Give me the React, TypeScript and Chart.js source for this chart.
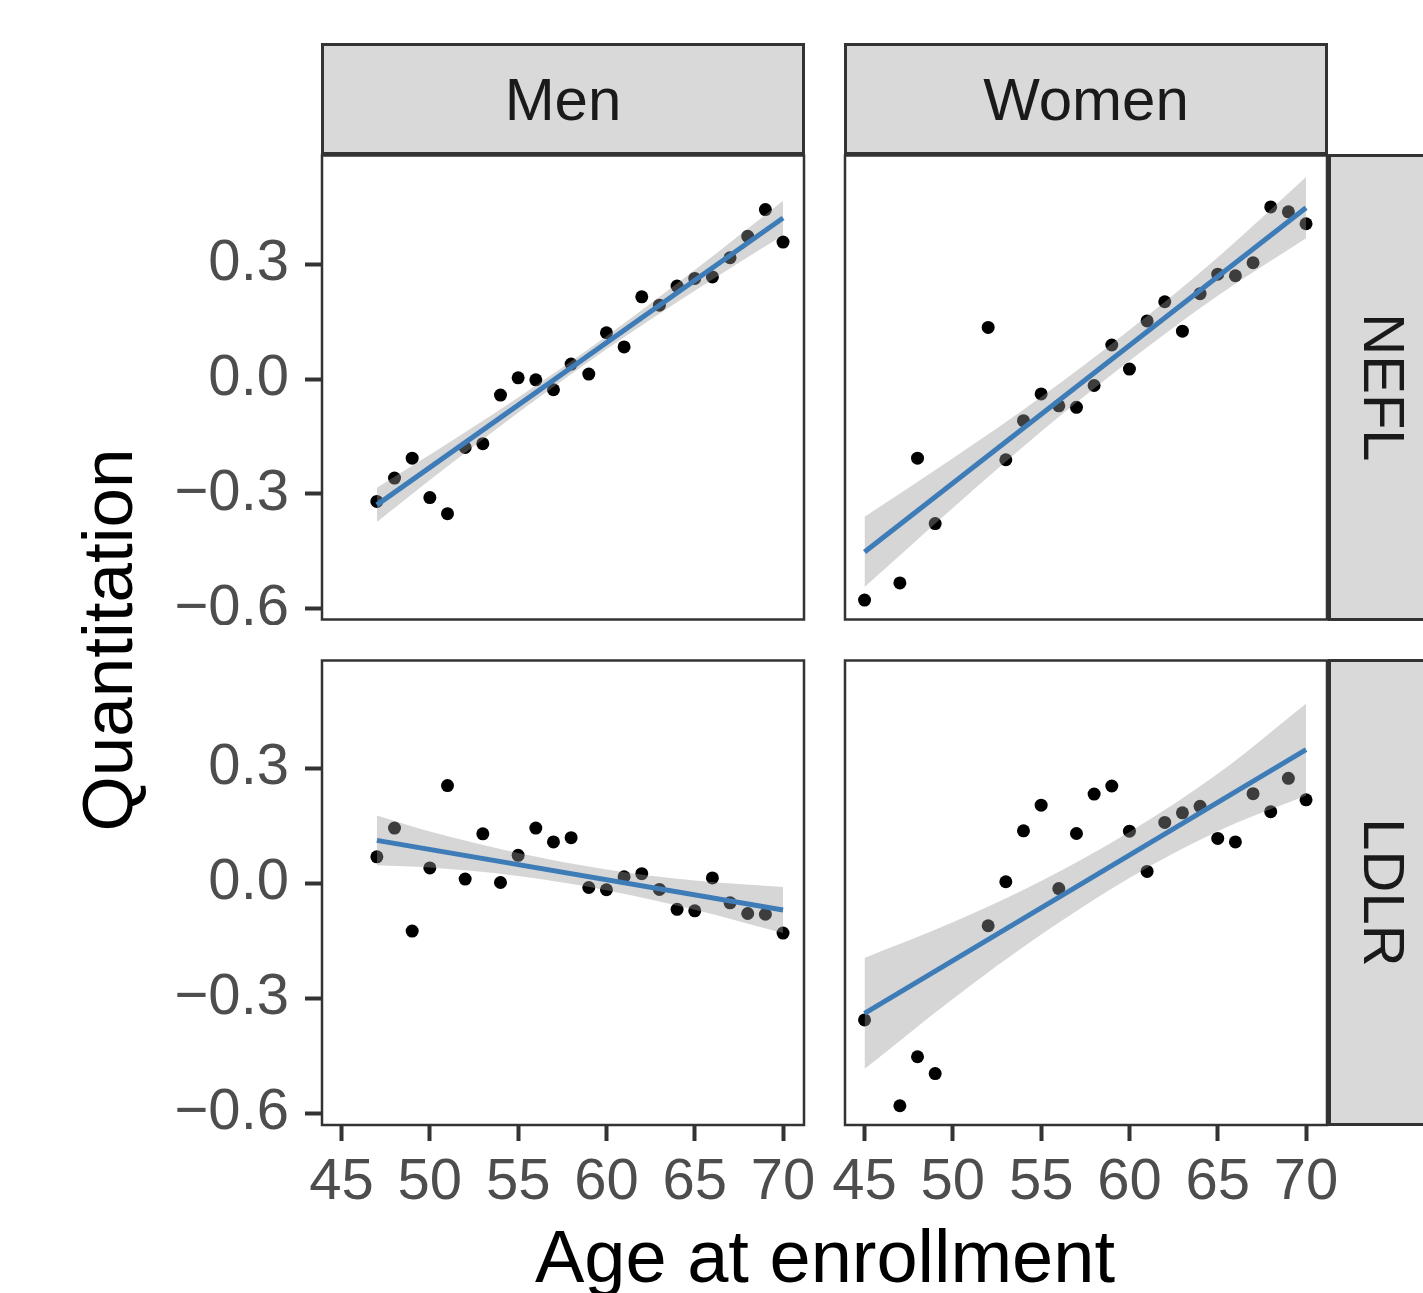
import React, { useEffect, useRef } from "react";
import { Chart, registerables } from "chart.js";

Chart.register(...registerables);

const FONT = "'Liberation Sans', Arial, Helvetica, sans-serif";

// ---- axis ticks ----
const xTicks = [45, 50, 55, 60, 65, 70];
const xTickLabels = ["45", "50", "55", "60", "65", "70"];
const yTicks = [0.3, 0.0, -0.3, -0.6];
const yTickLabels = ["0.3", "0.0", "\u22120.3", "\u22120.6"];

const sexLabels = ["Men", "Women"];
const proteinLabels = ["NEFL", "LDLR"];
const xTitle = "Age at enrollment";
const yTitle = "Quantitation";

// ---- Men, NEFL ----
const menNeflAge = [47, 48, 49, 50, 51, 52, 53, 54, 55, 56, 57, 58, 59, 60, 61, 62, 63, 64, 65, 66, 67, 68, 69, 70];
const menNeflValue = [-0.32, -0.259, -0.207, -0.31, -0.352, -0.179, -0.169, -0.042, 0.003, -0.002, -0.028, 0.039, 0.013, 0.121, 0.084, 0.215, 0.193, 0.243, 0.263, 0.267, 0.317, 0.373, 0.443, 0.358];
const menNeflFitAge = [47, 70];
const menNeflFitValue = [-0.329, 0.421];
const menNeflBandAge = [47, 50, 55, 60, 65, 70];
const menNeflBandLow = [-0.374, -0.264, -0.088, 0.078, 0.231, 0.376];
const menNeflBandHigh = [-0.284, -0.198, -0.048, 0.112, 0.285, 0.466];

// ---- Women, NEFL ----
const womenNeflAge = [45, 47, 48, 49, 52, 53, 54, 55, 56, 57, 58, 59, 60, 61, 62, 63, 64, 65, 66, 67, 68, 69, 70];
const womenNeflValue = [-0.578, -0.533, -0.207, -0.378, 0.135, -0.211, -0.109, -0.039, -0.07, -0.074, -0.017, 0.089, 0.026, 0.152, 0.202, 0.125, 0.223, 0.274, 0.27, 0.304, 0.45, 0.437, 0.406];
const womenNeflFitAge = [45, 70];
const womenNeflFitValue = [-0.452, 0.448];
const womenNeflBandAge = [45, 50, 55, 60, 65, 70];
const womenNeflBandLow = [-0.544, -0.337, -0.137, 0.048, 0.218, 0.368];
const womenNeflBandHigh = [-0.36, -0.207, -0.047, 0.128, 0.318, 0.528];

// ---- Men, LDLR ----
const menLdlrAge = [47, 48, 49, 50, 51, 52, 53, 54, 55, 56, 57, 58, 59, 60, 61, 62, 63, 64, 65, 66, 67, 68, 69, 70];
const menLdlrValue = [0.069, 0.144, -0.125, 0.04, 0.255, 0.011, 0.129, 0.002, 0.073, 0.144, 0.108, 0.119, -0.011, -0.017, 0.017, 0.025, -0.016, -0.068, -0.072, 0.014, -0.051, -0.079, -0.081, -0.13];
const menLdlrFitAge = [47, 70];
const menLdlrFitValue = [0.112, -0.07];
const menLdlrBandAge = [47, 50, 55, 60, 65, 70];
const menLdlrBandLow = [0.047, 0.041, 0.019, -0.018, -0.069, -0.13];
const menLdlrBandHigh = [0.177, 0.135, 0.079, 0.036, 0.007, -0.01];

// ---- Women, LDLR ----
const womenLdlrAge = [45, 47, 48, 49, 52, 53, 54, 55, 56, 57, 58, 59, 60, 61, 62, 63, 64, 65, 66, 67, 68, 69, 70];
const womenLdlrValue = [-0.357, -0.581, -0.453, -0.497, -0.111, 0.004, 0.137, 0.204, -0.014, 0.13, 0.233, 0.254, 0.136, 0.031, 0.159, 0.184, 0.201, 0.117, 0.108, 0.234, 0.187, 0.274, 0.218];
const womenLdlrFitAge = [45, 70];
const womenLdlrFitValue = [-0.34, 0.349];
const womenLdlrBandAge = [45, 50, 55, 60, 65, 70];
const womenLdlrBandLow = [-0.485, -0.302, -0.134, 0.014, 0.136, 0.229];
const womenLdlrBandHigh = [-0.195, -0.102, 0.006, 0.134, 0.286, 0.469];

const X_MIN = 43.95;
const X_MAX = 71.13;

type PanelProps = {
  ages: number[];
  values: number[];
  fitAge: number[];
  fitValue: number[];
  bandAge: number[];
  bandLow: number[];
  bandHigh: number[];
  left: number;
  top: number;
  width: number;
  height: number;
  padding: { left: number; right: number; top: number; bottom: number };
  yAxisWidth: number | null;
  xAxisHeight: number | null;
  yMin: number;
  yMax: number;
};

const framePlugin = {
  id: "panelFrame",
  afterDraw(chart: any) {
    const { ctx, chartArea } = chart;
    ctx.save();
    ctx.strokeStyle = "#333333";
    ctx.lineWidth = 2.5;
    ctx.strokeRect(chartArea.left - 1, chartArea.top - 1, chartArea.right - chartArea.left + 2, chartArea.bottom - chartArea.top + 2);
    ctx.restore();
  },
};

function Panel(p: PanelProps) {
  const ref = useRef<HTMLCanvasElement | null>(null);
  useEffect(() => {
    if (!ref.current) return;
    const pts = p.ages.map((a, i) => ({ x: a, y: p.values[i] }));
    const fit = p.fitAge.map((a, i) => ({ x: a, y: p.fitValue[i] }));
    const low = p.bandAge.map((a, i) => ({ x: a, y: p.bandLow[i] }));
    const high = p.bandAge.map((a, i) => ({ x: a, y: p.bandHigh[i] }));
    const chart = new Chart(ref.current, {
      type: "scatter",
      data: {
        datasets: [
          {
            type: "line",
            data: fit,
            borderColor: "#3E7CB8",
            borderWidth: 5,
            pointRadius: 0,
            fill: false,
            order: 0,
          } as any,
          {
            type: "line",
            data: low,
            borderColor: "rgba(0,0,0,0)",
            borderWidth: 0,
            pointRadius: 0,
            fill: false,
            cubicInterpolationMode: "monotone",
            order: 1,
          } as any,
          {
            type: "line",
            data: high,
            borderColor: "rgba(0,0,0,0)",
            borderWidth: 0,
            pointRadius: 0,
            fill: "-1",
            backgroundColor: "rgba(153,153,153,0.4)",
            cubicInterpolationMode: "monotone",
            order: 1,
          } as any,
          {
            type: "scatter",
            data: pts,
            pointRadius: 6.5,
            backgroundColor: "#000000",
            borderWidth: 0,
            order: 2,
          } as any,
        ],
      },
      options: {
        animation: false,
        responsive: false,
        maintainAspectRatio: false,
        layout: { padding: p.padding },
        plugins: { legend: { display: false }, tooltip: { enabled: false } },
        scales: {
          x: {
            type: "linear",
            min: X_MIN,
            max: X_MAX,
            display: p.xAxisHeight !== null,
            afterBuildTicks: (s: any) => {
              s.ticks = xTicks.map((v) => ({ value: v }));
            },
            afterFit: (s: any) => {
              if (p.xAxisHeight !== null) s.height = p.xAxisHeight;
              s.paddingLeft = 0;
              s.paddingRight = 0;
              s.paddingTop = 0;
              s.paddingBottom = 0;
            },
            ticks: {
              autoSkip: false,
              maxRotation: 0,
              minRotation: 0,
              padding: 7,
              color: "#4d4d4d",
              font: { family: FONT, size: 58 },
              callback: (v: any) => xTickLabels[xTicks.indexOf(Number(v))] ?? "",
            },
            grid: { drawOnChartArea: false, drawTicks: true, tickLength: 17, tickWidth: 4, tickColor: "#333333" },
            border: { display: false },
          },
          y: {
            type: "linear",
            min: p.yMin,
            max: p.yMax,
            display: p.yAxisWidth !== null,
            afterBuildTicks: (s: any) => {
              s.ticks = yTicks.map((v) => ({ value: v }));
            },
            afterFit: (s: any) => {
              if (p.yAxisWidth !== null) s.width = p.yAxisWidth;
              s.paddingLeft = 0;
              s.paddingRight = 0;
              s.paddingTop = 0;
              s.paddingBottom = 0;
            },
            ticks: {
              autoSkip: false,
              padding: 16,
              color: "#4d4d4d",
              font: { family: FONT, size: 58 },
              callback: (v: any) => {
                const i = yTicks.findIndex((t) => Math.abs(t - Number(v)) < 1e-9);
                return i >= 0 ? yTickLabels[i] : "";
              },
            },
            grid: { drawOnChartArea: false, drawTicks: true, tickLength: 18, tickWidth: 4, tickColor: "#333333" },
            border: { display: false },
          },
        },
      } as any,
      plugins: [framePlugin],
    });
    return () => chart.destroy();
  }, []);
  return (
    <canvas
      ref={ref}
      width={p.width}
      height={p.height}
      style={{ position: "absolute", left: p.left, top: p.top, width: p.width, height: p.height }}
    />
  );
}

const stripBase: React.CSSProperties = {
  position: "absolute",
  boxSizing: "border-box",
  background: "#d9d9d9",
  border: "3px solid #333333",
  color: "#1a1a1a",
  fontFamily: FONT,
  display: "flex",
  alignItems: "center",
  justifyContent: "center",
};

export default function App() {
  const TOP_YMAX = 223 / 383.33;
  const TOP_YMIN = -240 / 383.33;
  const BOT_YMAX = 222 / 383.33;
  const BOT_YMIN = -241 / 383.33;
  return (
    <div
      style={{
        position: "absolute",
        left: 0,
        top: 0,
        width: 1423,
        height: 1293,
        overflow: "hidden",
        background: "#ffffff",
      }}
    >
      {/* top strips */}
      <div style={{ ...stripBase, left: 321, top: 43, width: 484, height: 112, fontSize: 60 }}>{sexLabels[0]}</div>
      <div style={{ ...stripBase, left: 844, top: 43, width: 484, height: 112, fontSize: 60 }}>{sexLabels[1]}</div>
      {/* right strips */}
      <div style={{ ...stripBase, left: 1328, top: 154, width: 112, height: 467 }}>
        <span style={{ display: "inline-block", transform: "rotate(90deg)", fontSize: 58, whiteSpace: "nowrap" }}>
          {proteinLabels[0]}
        </span>
      </div>
      <div style={{ ...stripBase, left: 1328, top: 659, width: 112, height: 467 }}>
        <span style={{ display: "inline-block", transform: "rotate(90deg)", fontSize: 58, whiteSpace: "nowrap" }}>
          {proteinLabels[1]}
        </span>
      </div>

      <Panel
        ages={menNeflAge}
        values={menNeflValue}
        fitAge={menNeflFitAge}
        fitValue={menNeflFitValue}
        bandAge={menNeflBandAge}
        bandLow={menNeflBandLow}
        bandHigh={menNeflBandHigh}
        left={100}
        top={150}
        width={710}
        height={475}
        padding={{ left: 0, right: 7, top: 6, bottom: 6 }}
        yAxisWidth={223}
        xAxisHeight={null}
        yMin={TOP_YMIN}
        yMax={TOP_YMAX}
      />
      <Panel
        ages={womenNeflAge}
        values={womenNeflValue}
        fitAge={womenNeflFitAge}
        fitValue={womenNeflFitValue}
        bandAge={womenNeflBandAge}
        bandLow={womenNeflBandLow}
        bandHigh={womenNeflBandHigh}
        left={800}
        top={150}
        width={560}
        height={475}
        padding={{ left: 46, right: 34, top: 6, bottom: 6 }}
        yAxisWidth={null}
        xAxisHeight={null}
        yMin={TOP_YMIN}
        yMax={TOP_YMAX}
      />
      <Panel
        ages={menLdlrAge}
        values={menLdlrValue}
        fitAge={menLdlrFitAge}
        fitValue={menLdlrFitValue}
        bandAge={menLdlrBandAge}
        bandLow={menLdlrBandLow}
        bandHigh={menLdlrBandHigh}
        left={100}
        top={655}
        width={730}
        height={560}
        padding={{ left: 0, right: 27, top: 6, bottom: 0 }}
        yAxisWidth={223}
        xAxisHeight={91}
        yMin={BOT_YMIN}
        yMax={BOT_YMAX}
      />
      <Panel
        ages={womenLdlrAge}
        values={womenLdlrValue}
        fitAge={womenLdlrFitAge}
        fitValue={womenLdlrFitValue}
        bandAge={womenLdlrBandAge}
        bandLow={womenLdlrBandLow}
        bandHigh={womenLdlrBandHigh}
        left={800}
        top={655}
        width={560}
        height={560}
        padding={{ left: 46, right: 34, top: 6, bottom: 0 }}
        yAxisWidth={null}
        xAxisHeight={91}
        yMin={BOT_YMIN}
        yMax={BOT_YMAX}
      />

      {/* axis titles */}
      <div
        style={{
          position: "absolute",
          left: 425,
          top: 1221,
          width: 800,
          textAlign: "center",
          fontFamily: FONT,
          fontSize: 74,
          lineHeight: "72px",
          color: "#000000",
          whiteSpace: "nowrap",
        }}
      >
        {xTitle}
      </div>
      <div
        style={{
          position: "absolute",
          left: 108 - 300,
          top: 640 - 40,
          width: 600,
          height: 80,
          lineHeight: "80px",
          textAlign: "center",
          fontFamily: FONT,
          fontSize: 71,
          color: "#000000",
          whiteSpace: "nowrap",
          transform: "rotate(-90deg)",
        }}
      >
        {yTitle}
      </div>
    </div>
  );
}
